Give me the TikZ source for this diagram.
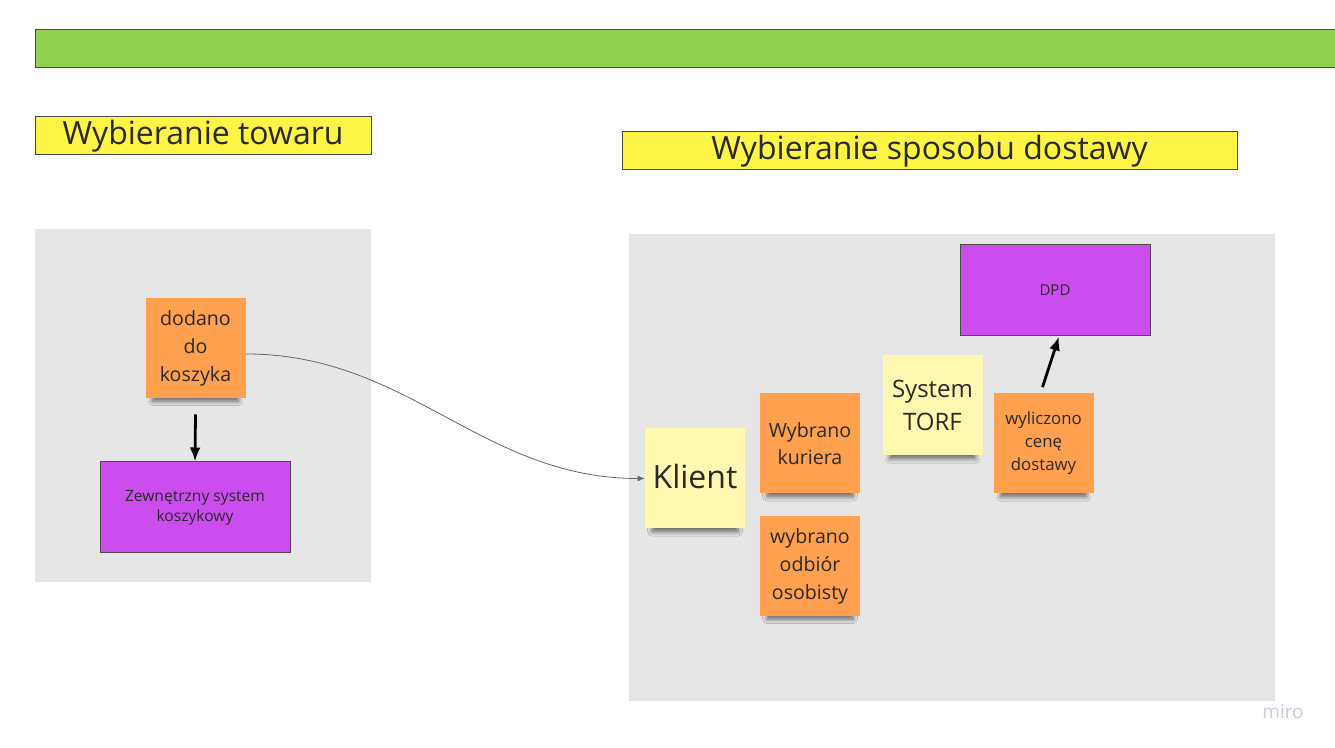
\documentclass[tikz,border=0pt]{standalone}
\usepackage{fontspec}
\setmainfont{Open Sans}
\usepackage{xcolor}
\usepackage{tikz}
\usetikzlibrary{arrows.meta,positioning,shadows.blur}
\definecolor{MiroGreen}{HTML}{8FD14F}
\definecolor{MiroTitle}{HTML}{FEF445}
\definecolor{MiroFrame}{HTML}{E6E6E6}
\definecolor{MiroOrange}{HTML}{FFA04E}
\definecolor{MiroNote}{HTML}{FFF8B0}
\definecolor{MiroViolet}{HTML}{CC4DEE}
\definecolor{MiroEdge}{HTML}{4A4A4A}
\definecolor{MiroInk}{HTML}{2A2A2A}
\definecolor{MiroLogo}{HTML}{C9CBD8}

\begin{document}
\begin{tikzpicture}[
    x=0.5pt, y=-0.5pt,
    heading/.style={draw=MiroEdge, line width=0.5pt, fill=MiroTitle, minimum height=19pt, inner sep=0pt, text=MiroInk, font=\fontsize{16}{18}\selectfont},
    frame/.style={fill=MiroFrame},
    sticky/.style={fill=MiroOrange, minimum width=50pt, minimum height=50pt, inner sep=0pt, text width=50pt, align=center, text=MiroInk,
      blur shadow={shadow xshift=0pt, shadow yshift=-6pt, shadow scale=0.86, shadow opacity=55, shadow blur steps=8, shadow blur radius=2.5pt}},
    note/.style={sticky, fill=MiroNote},
    extsys/.style={draw=MiroEdge, line width=0.5pt, fill=MiroViolet, minimum width=95pt, minimum height=45.5pt, inner sep=0pt, align=center, text=MiroInk},
    arrow/.style={-{Latex[length=7pt,width=5.5pt]}, line width=1.4pt, draw=black},
    link/.style={-{Latex[length=3.5pt,width=3pt]}, line width=0.4pt, draw=black!60}
  ]
    \useasboundingbox (0,0) rectangle (1335,748);

    % top bar and the two frames
    \draw[draw=MiroEdge, line width=0.5pt, fill=MiroGreen] (35,30) rectangle (1340,68);
    \fill[frame] (35,229) rectangle (371,582);
    \fill[frame] (629,234) rectangle (1275,701);

    \node[heading, minimum width=168pt] (towar) at (203,136) {Wybieranie towaru};
    \node[heading, minimum width=307.5pt] (dostawa) at (929.5,151) {Wybieranie sposobu dostawy};

    % Wybieranie towaru
    \node[sticky, font=\fontsize{9.8}{14}\selectfont] (dodano) at (195.5,348) {dodano\\do\\koszyka};
    \node[extsys, font=\fontsize{7.8}{10}\selectfont] (koszyk) at (195,507.5) {Zewnętrzny system\\koszykowy};

    % Wybieranie sposobu dostawy
    \node[note, font=\fontsize{16}{19}\selectfont] (klient) at (695,478.5) {\raisebox{2pt}{Klient}};
    \node[sticky, font=\fontsize{9.8}{13.5}\selectfont] (kurier) at (810,443.5) {Wybrano\\kuriera\\[1.5pt]};
    \node[sticky, font=\fontsize{9.8}{14}\selectfont] (odbior) at (810,566) {wybrano\\odbiór\\osobisty};
    \node[note, font=\fontsize{12}{16.5}\selectfont] (torf) at (932.5,405.5) {System\\TORF\\[1.5pt]};
    \node[sticky, font=\fontsize{8.4}{11.5}\selectfont] (cena) at (1043.5,443.5) {wyliczono\\cenę\\dostawy};
    \node[extsys, font=\fontsize{7.5}{9}\selectfont] (dpd) at (1055,290.5) {DPD};

    \node[text=MiroLogo, font=\fontsize{9.5}{11}\selectfont] (logo) at (1283,712) {miro};

    \draw[arrow] ([yshift=-8pt]dodano.south) -- (koszyk.north);
    \draw[arrow] ([xshift=-0.5pt,yshift=3pt]cena.north) -- ([xshift=2pt]dpd.south);
    \draw[link] ([yshift=-3pt]dodano.east) to[out=0, in=180] (klient.west);
\end{tikzpicture}
\end{document}
